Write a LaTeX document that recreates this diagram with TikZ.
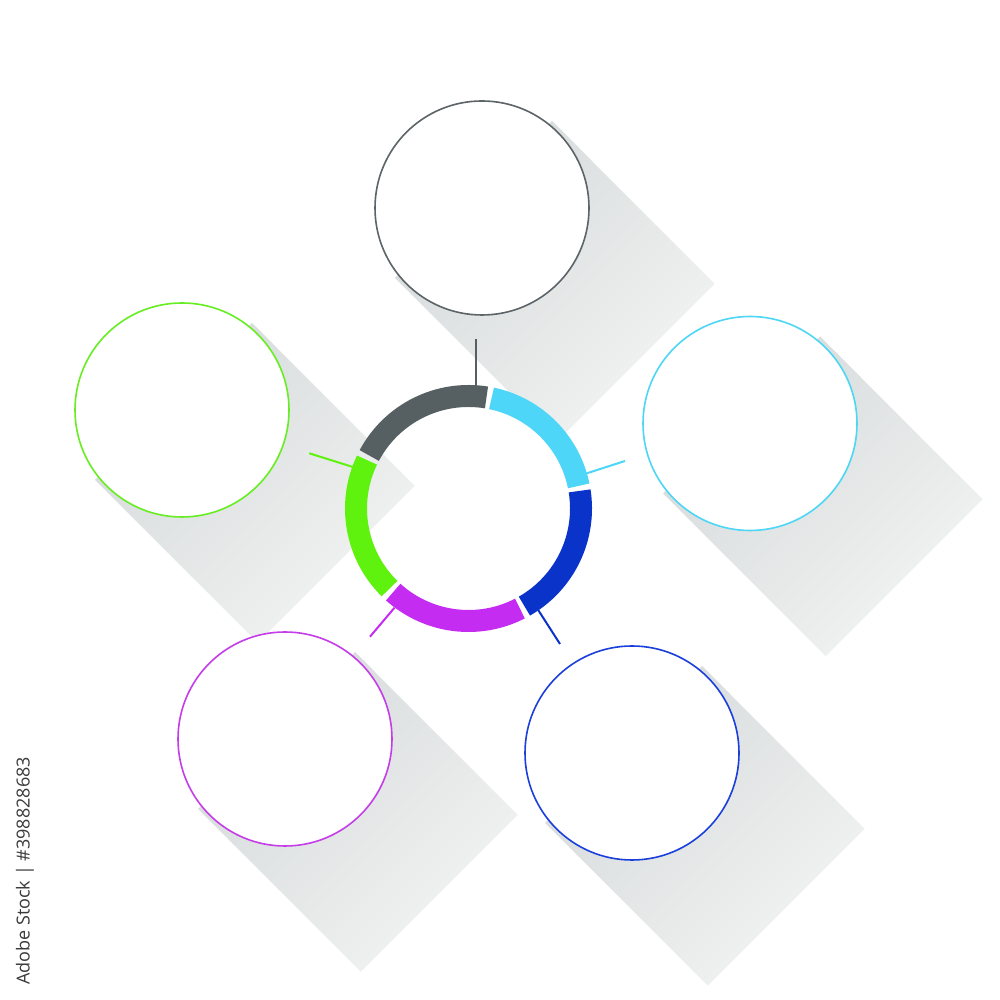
\documentclass[tikz,border=0pt]{standalone}
\usepackage{fontspec}
\newfontfamily\idfont{Open Sans}
\definecolor{cgray}{HTML}{566063}
\definecolor{ccyan}{HTML}{4DD6F7}
\definecolor{cblue}{HTML}{0A33C9}
\definecolor{cpurple}{HTML}{C52CF2}
\definecolor{cgreen}{HTML}{5EF20E}
\definecolor{ogray}{HTML}{5C6468}
\definecolor{ocyan}{HTML}{4DD6F5}
\definecolor{oblue}{HTML}{1B3FDB}
\definecolor{opurple}{HTML}{C43DE8}
\definecolor{ogreen}{HTML}{66EE22}
\definecolor{shdark}{HTML}{D6DADA}
\definecolor{shlight}{HTML}{F2F3F3}
\definecolor{idgray}{HTML}{3A3A3A}
\newcommand\longshadow[1]{%
  \begin{scope}[shift={(#1)}]
    \shade[sh] (70,87) -- (232.6,-75.7) -- (75.7,-232.6) -- (-87,-70) -- cycle;
  \end{scope}}
\begin{document}
\begin{tikzpicture}[x=1pt,y=1pt,
  bubble/.style={circle, draw=#1, line width=1.6pt, fill=white, minimum size=214pt, inner sep=0pt},
  seg/.style={draw=#1, line width=22pt},
  link/.style={draw=#1, line width=2pt},
  sh/.style={top color=shdark, bottom color=shlight, shading angle=45}]
\useasboundingbox (0,0) rectangle (1000,1000);
\fill[white] (0,0) rectangle (1000,1000);
% centres
\coordinate (hub) at (468.5,491.5);
\coordinate (cTop) at (482,792);
\coordinate (cCyan) at (750,576.5);
\coordinate (cGreen) at (182,590);
\coordinate (cPurple) at (285,261);
\coordinate (cBlue) at (632,247);
% long shadows
\longshadow{cTop}
\longshadow{cCyan}
\longshadow{cGreen}
\longshadow{cPurple}
\longshadow{cBlue}
% outer circles
\node[bubble=ogray] (top) at (cTop) {};
\node[bubble=ocyan] (cyan) at (cCyan) {};
\node[bubble=ogreen] (green) at (cGreen) {};
\node[bubble=opurple] (purple) at (cPurple) {};
\node[bubble=oblue] (blue) at (cBlue) {};
% ring segments
\draw[seg=cgray] ([shift={(80.8:112.5)}]hub) arc[start angle=80.8, end angle=151.9, radius=112.5];
\draw[seg=ccyan] ([shift={(11.6:112.5)}]hub) arc[start angle=11.6, end angle=78.2, radius=112.5];
\draw[seg=cblue] ([shift={(-60.2:112.5)}]hub) arc[start angle=-60.2, end angle=9.0, radius=112.5];
\draw[seg=cpurple] ([shift={(-132:112.5)}]hub) arc[start angle=-132, end angle=-62.8, radius=112.5];
\draw[seg=cgreen] ([shift={(154.5:112.5)}]hub) arc[start angle=154.5, end angle=225.4, radius=112.5];
% connector ticks
\coordinate (gA) at (476,661); \coordinate (gB) at (476,612);
\coordinate (yA) at (586.5,526.6); \coordinate (yB) at (625,539);
\coordinate (bA) at (538.3,389.8); \coordinate (bB) at (560,356);
\coordinate (pA) at (394.5,392.3); \coordinate (pB) at (370,363.3);
\coordinate (nA) at (353.5,532.8); \coordinate (nB) at (309.3,546.7);
\draw[link=cgray] (gA) -- (gB);
\draw[link=ccyan] (yA) -- (yB);
\draw[link=cblue] (bA) -- (bB);
\draw[link=cpurple] (pA) -- (pB);
\draw[link=cgreen] (nA) -- (nB);
% vertical id text
\node[rotate=90, text=idgray, font=\idfont\fontsize{18}{20}\selectfont, inner sep=0pt] (stockid) at (25,129) {Adobe Stock | \#398828683};
\end{tikzpicture}
\end{document}
